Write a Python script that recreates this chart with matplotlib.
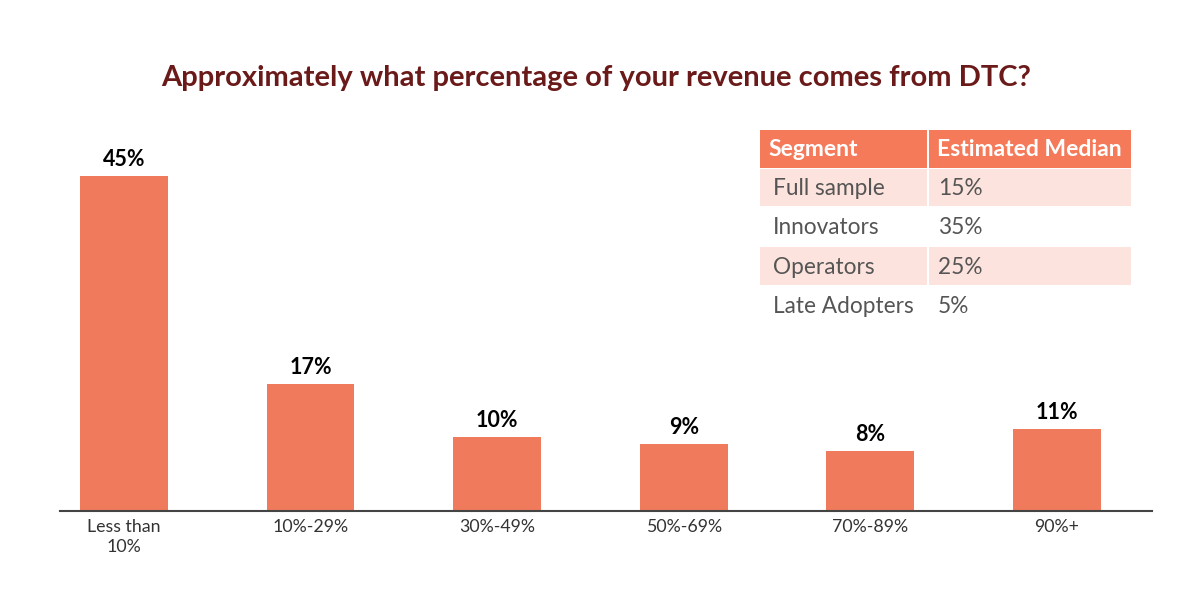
import matplotlib.pyplot as plt
from matplotlib.patches import Rectangle

categories = ["Less than\n10%", "10%-29%", "30%-49%", "50%-69%", "70%-89%", "90%+"]
shares = [45, 17, 10, 9, 8, 11]

segments = ["Full sample", "Innovators", "Operators", "Late Adopters"]
medians = ["15%", "35%", "25%", "5%"]
table_header = ["Segment", "Estimated Median"]

bar_color = "#f07a5c"
head_color = "#f47a5a"
stripe_color = "#fde3dd"
title_color = "#6b1a1a"

plt.rcParams["font.family"] = ["Lato", "DejaVu Sans"]

W, H = 1193, 592
fig = plt.figure(figsize=(W / 100, H / 100), dpi=100)

# main bar chart, axes placed in pixel terms
left, right, bottom, top = 60, 1152, 511, 100
ax = fig.add_axes([left / W, 1 - bottom / H, (right - left) / W, (bottom - top) / H])
x = range(len(categories))
bars = ax.bar(x, shares, width=0.47, color=bar_color)
ax.set_xlim(-0.343, 5.51)
ax.set_ylim(0, 55.2)
for b, v in zip(bars, shares):
    ax.text(b.get_x() + b.get_width() / 2, v + 0.8, f"{v}%", ha="center", va="bottom",
            fontsize=15.5, fontweight="bold", color="black")
ax.set_xticks(list(x))
ax.set_xticklabels(categories, fontsize=12.8, color="#333333", linespacing=1.25)
ax.tick_params(axis="x", length=0, pad=6)
ax.set_yticks([])
for s in ["top", "left", "right"]:
    ax.spines[s].set_visible(False)
ax.spines["bottom"].set_color("#444444")
ax.spines["bottom"].set_linewidth(1.5)

fig.text(0.5, 1 - 78 / H, "Approximately what percentage of your revenue comes from DTC?",
         ha="center", va="center", fontsize=21, fontweight="bold", color=title_color)

# table drawn in pixel coordinates
tx = fig.add_axes([0, 0, 1, 1])
tx.set_xlim(0, W)
tx.set_ylim(H, 0)
tx.axis("off")
col_x = [760, 929]
col_w = [167, 202]
row_top = 130
head_h = 38
row_h = 39.2

for cx, cw, label in zip(col_x, col_w, table_header):
    tx.add_patch(Rectangle((cx, row_top), cw, head_h, color=head_color, lw=0))
    tx.text(cx + 8, row_top + head_h / 2 + 1, label, ha="left", va="center",
            fontsize=16.5, color="white", fontweight="bold")

for i, (seg, med) in enumerate(zip(segments, medians)):
    y0 = row_top + head_h + i * row_h
    if i % 2 == 0:
        for cx, cw in zip(col_x, col_w):
            tx.add_patch(Rectangle((cx, y0 + 1), cw, row_h - 2, color=stripe_color, lw=0))
    tx.text(col_x[0] + 13, y0 + row_h / 2 + 1, seg, ha="left", va="center",
            fontsize=16.3, color="#555555")
    tx.text(col_x[1] + 9, y0 + row_h / 2 + 1, med, ha="left", va="center",
            fontsize=16.3, color="#555555")

fig.savefig("out.png", dpi=100)
